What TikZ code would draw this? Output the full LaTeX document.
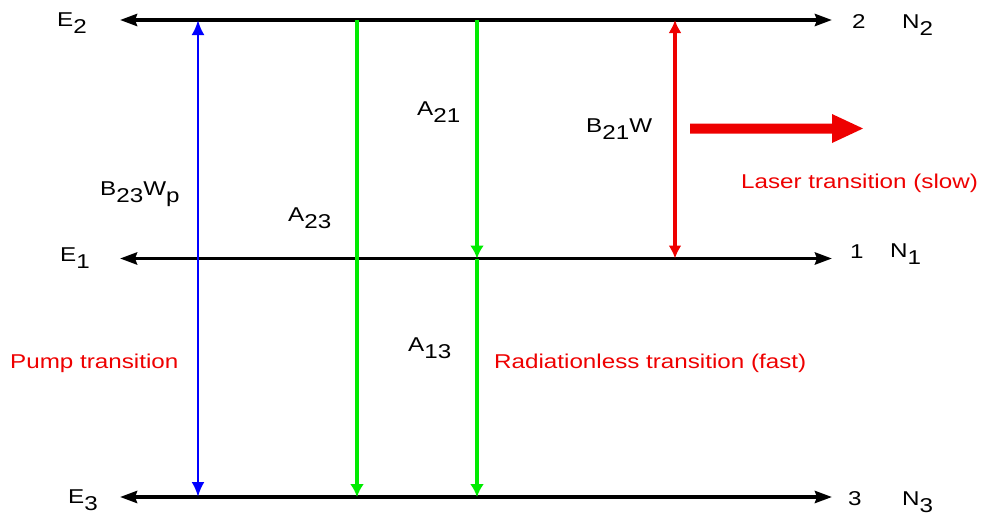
\documentclass[tikz,border=0pt]{standalone}
\usepackage{fontspec}
\setmainfont[FakeStretch=1.21]{Liberation Sans}
\usetikzlibrary{arrows.meta}
\definecolor{lgreen}{RGB}{0,235,0}
\definecolor{lred}{RGB}{238,0,0}
\definecolor{lblue}{RGB}{0,0,255}
\newcommand{\lsub}[1]{\raisebox{-7pt}{#1}}
\begin{document}
\begin{tikzpicture}[x=1pt,y=-1pt,
  lbl/.style={anchor=base west,inner sep=0pt,font=\fontsize{20}{23}\selectfont},
  rlbl/.style={lbl,text=lred},
  level/.style={line width=3.6pt,draw=black,{Stealth[length=17pt,width=12pt,inset=2pt]}-{Stealth[length=17pt,width=12pt,inset=2pt]}},
  pump/.style={line width=2.8pt,draw=lblue,{Latex[length=15pt,width=13pt]}-{Latex[length=15pt,width=13pt]}},
  decay/.style={line width=3.6pt,draw=lgreen,-{Latex[length=13pt,width=14pt]}},
  laser/.style={line width=3.6pt,draw=lred,{Latex[length=13pt,width=13pt]}-{Latex[length=13pt,width=13pt]}}]
\useasboundingbox (0,0) rectangle (985,515);
% level end points
\coordinate (L2) at (120,20);  \coordinate (R2) at (832,20);
\coordinate (L1) at (120,258.5); \coordinate (R1) at (832,258.5);
\coordinate (L3) at (120,497); \coordinate (R3) at (832,497);
% transition end points
\coordinate (b2) at (198,20);  \coordinate (b3) at (198,497);
\coordinate (g2) at (357,20);  \coordinate (g3) at (357,497);
\coordinate (h2) at (477,20);  \coordinate (h1) at (477,258.5); \coordinate (h3) at (477,497);
\coordinate (r2) at (675,20);  \coordinate (r1) at (675,258.5);
% levels
\draw[level] (L2) -- (R2);
\draw[level] (L1) -- (R1);
\draw[level] (L3) -- (R3);
% transitions
\draw[pump] (b2) -- (b3);
\draw[decay] (g2) -- (g3);
\draw[decay] (h2) -- (h1);
\draw[decay] (h1) -- (h3);
\draw[laser] (r2) -- (r1);
% big laser output arrow
\fill[lred] (690,123.5) -- (832,123.5) -- (832,114) -- (863,128.5) -- (832,143) -- (832,133.5) -- (690,133.5) -- cycle;
% labels
\node[lbl] (tE2) at (57,26) {E\lsub{2}};
\node[lbl] (tE1) at (60,261) {E\lsub{1}};
\node[lbl] (tE3) at (68,503) {E\lsub{3}};
\node[lbl] (t2) at (852,28) {2};
\node[lbl] (tN2) at (902,28) {N\lsub{2}};
\node[lbl] (t1) at (850,258) {1};
\node[lbl] (tN1) at (890,257) {N\lsub{1}};
\node[lbl] (t3) at (848,505) {3};
\node[lbl] (tN3) at (902,505) {N\lsub{3}};
\node[lbl] (tB23) at (100,195) {B\lsub{23}W\lsub{p}};
\node[lbl] (tA23) at (288,221) {A\lsub{23}};
\node[lbl] (tA21) at (417,115) {A\lsub{21}};
\node[lbl] (tA13) at (408,351) {A\lsub{13}};
\node[lbl] (tB21) at (586,132) {B\lsub{21}W};
\node[rlbl] (tpump) at (10,368) {Pump transition};
\node[rlbl] (trad) at (494,368) {Radiationless transition (fast)};
\node[rlbl] (tlas) at (741,188) {Laser transition (slow)};
\end{tikzpicture}
\end{document}
